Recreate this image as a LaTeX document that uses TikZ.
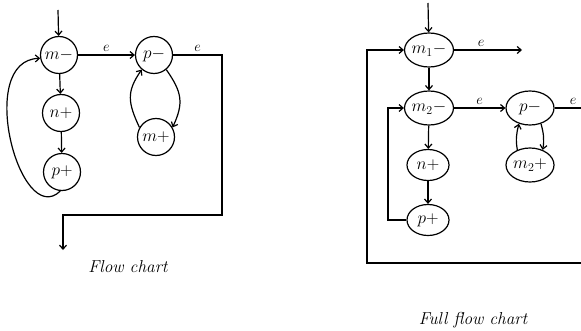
\documentclass[tikz,border=0pt]{standalone}
\usepackage{amsmath}
\usepackage{tikz}
\usetikzlibrary{shapes.geometric,arrows.meta}

\begin{document}
\begin{tikzpicture}[x=1pt, y=1pt, line width=1.2pt,
  >={Straight Barb[length=4pt,width=7pt]},
  reg/.style={draw, circle, minimum size=37pt, inner sep=0pt, font=\LARGE},
  oreg/.style={draw, ellipse, minimum width=48pt, minimum height=34pt, inner sep=0pt, font=\LARGE},
  sreg/.style={draw, ellipse, minimum width=42pt, minimum height=31pt, inner sep=0pt, font=\LARGE},
  elab/.style={above=2pt, inner sep=1pt, font=\Large},
  title/.style={font=\LARGE\itshape}]

\useasboundingbox (0,0) rectangle (581,330);

% flow chart
\coordinate (in1) at (58,320);
\node[reg] (m)  at (59,275)  {$m-$};
\node[reg] (np) at (61,217)  {$n+$};
\node[reg] (pp) at (62,158)  {$p+$};
\node[reg] (pm) at (154,275) {$p-$};
\node[reg] (mp) at (156,193) {$m+$};
\coordinate (c1) at (222,275);
\coordinate (c2) at (222,115);
\coordinate (c3) at (63,115);
\coordinate (out1) at (63,80);

\draw[->] (in1) -- (m);
\draw[->] (m) -- (np);
\draw[->] (np) -- (pp);
\draw[->] (pp.265) .. controls (20,100) and (-25,270) .. (m.190);
\draw[->] (m) -- node[elab] (e1) {$e$} (pm);
\draw[->] (mp.150) to[out=115,in=235,looseness=1.2] (pm.230);
\draw[->] (pm.310) to[out=-55,in=65,looseness=1.2] (mp.30);
\draw[->] (pm) -- node[elab] (e2) {$e$} (c1) -- (c2) -- (c3) -- (out1);

\node[title] (t1) at (128,63) {Flow chart};

% full flow chart
\coordinate (in2) at (428,327);
\node[oreg] (m1)  at (429,280) {$m_1-$};
\node[oreg] (m2)  at (429,222) {$m_2-$};
\node[sreg] (np2) at (428,165) {$n+$};
\node[sreg] (pp2) at (428,110) {$p+$};
\node[oreg] (pm2) at (530,222) {$p-$};
\node[oreg] (mp2) at (530,165) {$m_2+$};
\coordinate (x1) at (522,280);
\coordinate (x2) at (581,222);
\coordinate (x3) at (581,67);
\coordinate (b1) at (367,67);
\coordinate (b2) at (367,280);
\coordinate (l1) at (388,110);
\coordinate (l2) at (388,222);

\draw[->] (in2) -- (m1);
\draw[->] (m1) -- node[elab, pos=0.4] (e3) {$e$} (x1);
\draw[->] (m1) -- (m2);
\draw[->] (m2) -- (np2);
\draw[->] (np2) -- (pp2);
\draw[->] (pp2) -- (l1) -- (l2) -- (m2);
\draw[->] (m2) -- node[elab] (e4) {$e$} (pm2);
\draw[->] (mp2.130) to[out=100,in=255] (pm2.235);
\draw[->] (pm2.305) to[out=-75,in=80] (mp2.50);
\draw (pm2) -- node[elab, pos=0.7] (e5) {$e$} (x2);
\draw[->] (x3) -- (b1) -- (b2) -- (m1);

\node[title] (t2) at (473,10) {Full flow chart};

\end{tikzpicture}
\end{document}
